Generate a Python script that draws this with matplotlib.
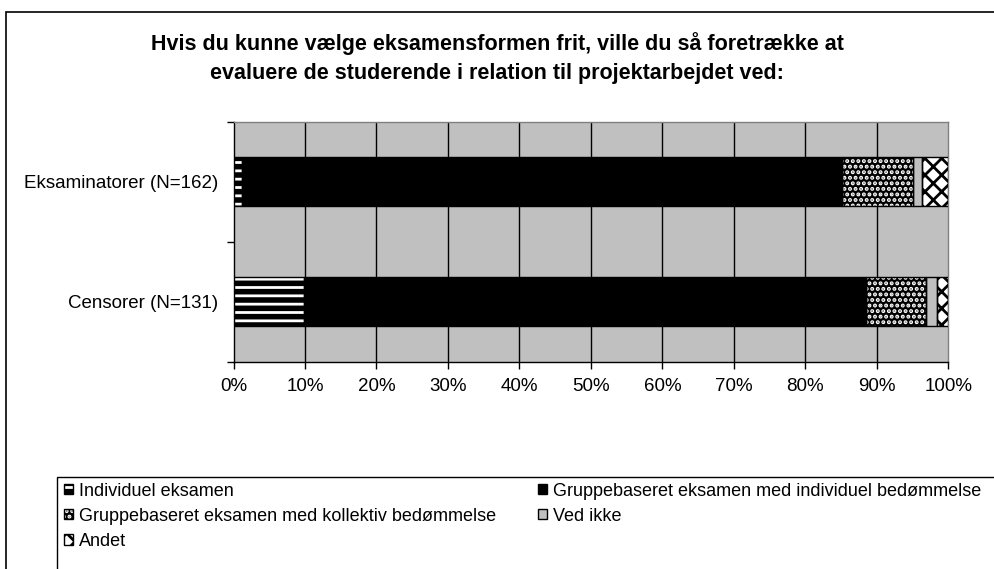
import numpy as np
import matplotlib
matplotlib.use('Agg')
import matplotlib.pyplot as plt
from matplotlib.patches import Patch, Rectangle

plt.rcParams['font.family'] = ['Liberation Sans', 'DejaVu Sans']
plt.rcParams['hatch.linewidth'] = 2.0

groups = ['Censorer (N=131)', 'Eksaminatorer (N=162)']
series = ['Individuel eksamen',
          'Gruppebaseret eksamen med individuel bedømmelse',
          'Gruppebaseret eksamen med kollektiv bedømmelse',
          'Ved ikke',
          'Andet']
# counts per group (Censorer, Eksaminatorer)
individuel = [13, 2]
gruppe_ind = [103, 136]
gruppe_kol = [11, 16]
ved_ikke = [2, 2]
andet = [2, 6]
totals = [131, 162]

values = [individuel, gruppe_ind, gruppe_kol, ved_ikke, andet]
# facecolor, hatch colour, hatch
styles = [('black', 'white', '--'),
          ('black', 'black', None),
          ('black', 'white', '...'),
          ('#c0c0c0', 'black', None),
          ('white', 'black', 'xx')]

fig = plt.figure(figsize=(9.94, 5.69), dpi=100)
ax = fig.add_axes([233.5/994, 1-361.5/569, 714.8/994, 239.5/569])
ax.set_facecolor('#c0c0c0')

y = np.arange(len(groups))
tot = np.array(totals, dtype=float)
left = np.zeros(len(groups))
h = 0.41
for vals, (fc, hc, hatch) in zip(values, styles):
    frac = np.array(vals) / tot
    ax.barh(y, frac, left=left, height=h, color=fc, edgecolor=hc,
            hatch=hatch, linewidth=0, zorder=3)
    ax.barh(y, frac, left=left, height=h, fill=False, edgecolor='black',
            linewidth=1, zorder=4)
    left += frac

ax.set_xlim(0, 1)
ax.set_ylim(-0.5, 1.5)
xt = np.arange(0, 1.01, 0.1)
ax.set_xticks(xt)
ax.set_xticklabels([f'{int(round(v*100))}%' for v in xt], fontsize=13.5)
ax.set_yticks(y)
ax.set_yticklabels(groups, fontsize=13.5)
ax.set_yticks([-0.5, 0.5, 1.5], minor=True)
ax.tick_params(axis='y', which='major', length=0, pad=11)
ax.tick_params(axis='y', which='minor', length=5, width=1, direction='out')
ax.tick_params(axis='x', length=5, width=1, direction='out', pad=7)
for xv in xt[1:-1]:
    ax.axvline(xv, color='black', lw=1, zorder=1)
for s in ['left', 'bottom']:
    ax.spines[s].set_color('black')
    ax.spines[s].set_linewidth(1)
for s in ['top', 'right']:
    ax.spines[s].set_color('#808080')
    ax.spines[s].set_linewidth(1)

fig.text(497/994, 1-50/569,
         'Hvis du kunne vælge eksamensformen frit, ville du så foretrække at',
         ha='center', va='baseline', fontsize=15.5, fontweight='bold')
fig.text(497/994, 1-79/569,
         'evaluere de studerende i relation til projektarbejdet ved:',
         ha='center', va='baseline', fontsize=15.5, fontweight='bold')

# outer chart border and legend frame (cut by the image edge)
fig.patches.append(Rectangle((6/994, -0.1), 1.2, 1.1-12/569, fill=False,
                             edgecolor='black', lw=1.2, transform=fig.transFigure))
fig.patches.append(Rectangle((57/994, -0.1), 1.2, 1.1-477/569, fill=False,
                             edgecolor='black', lw=1, transform=fig.transFigure))

handles = []
for (fc, hc, hatch), name in zip(styles, series):
    fill = Patch(facecolor=fc, edgecolor=hc, hatch=hatch, linewidth=0)
    outline = Patch(fill=False, edgecolor='black', linewidth=1)
    handles.append((fill, outline))
order = [0, 2, 4, 1, 3]
fig.legend([handles[i] for i in order], [series[i] for i in order],
           loc='upper left', bbox_to_anchor=(60/994, 1-479/569), ncol=2,
           frameon=False, fontsize=13, handlelength=0.5, handleheight=0.5,
           handletextpad=0.35, columnspacing=2.3, labelspacing=0.45,
           borderaxespad=0, borderpad=0.2)

fig.savefig('out.png', dpi=100)
